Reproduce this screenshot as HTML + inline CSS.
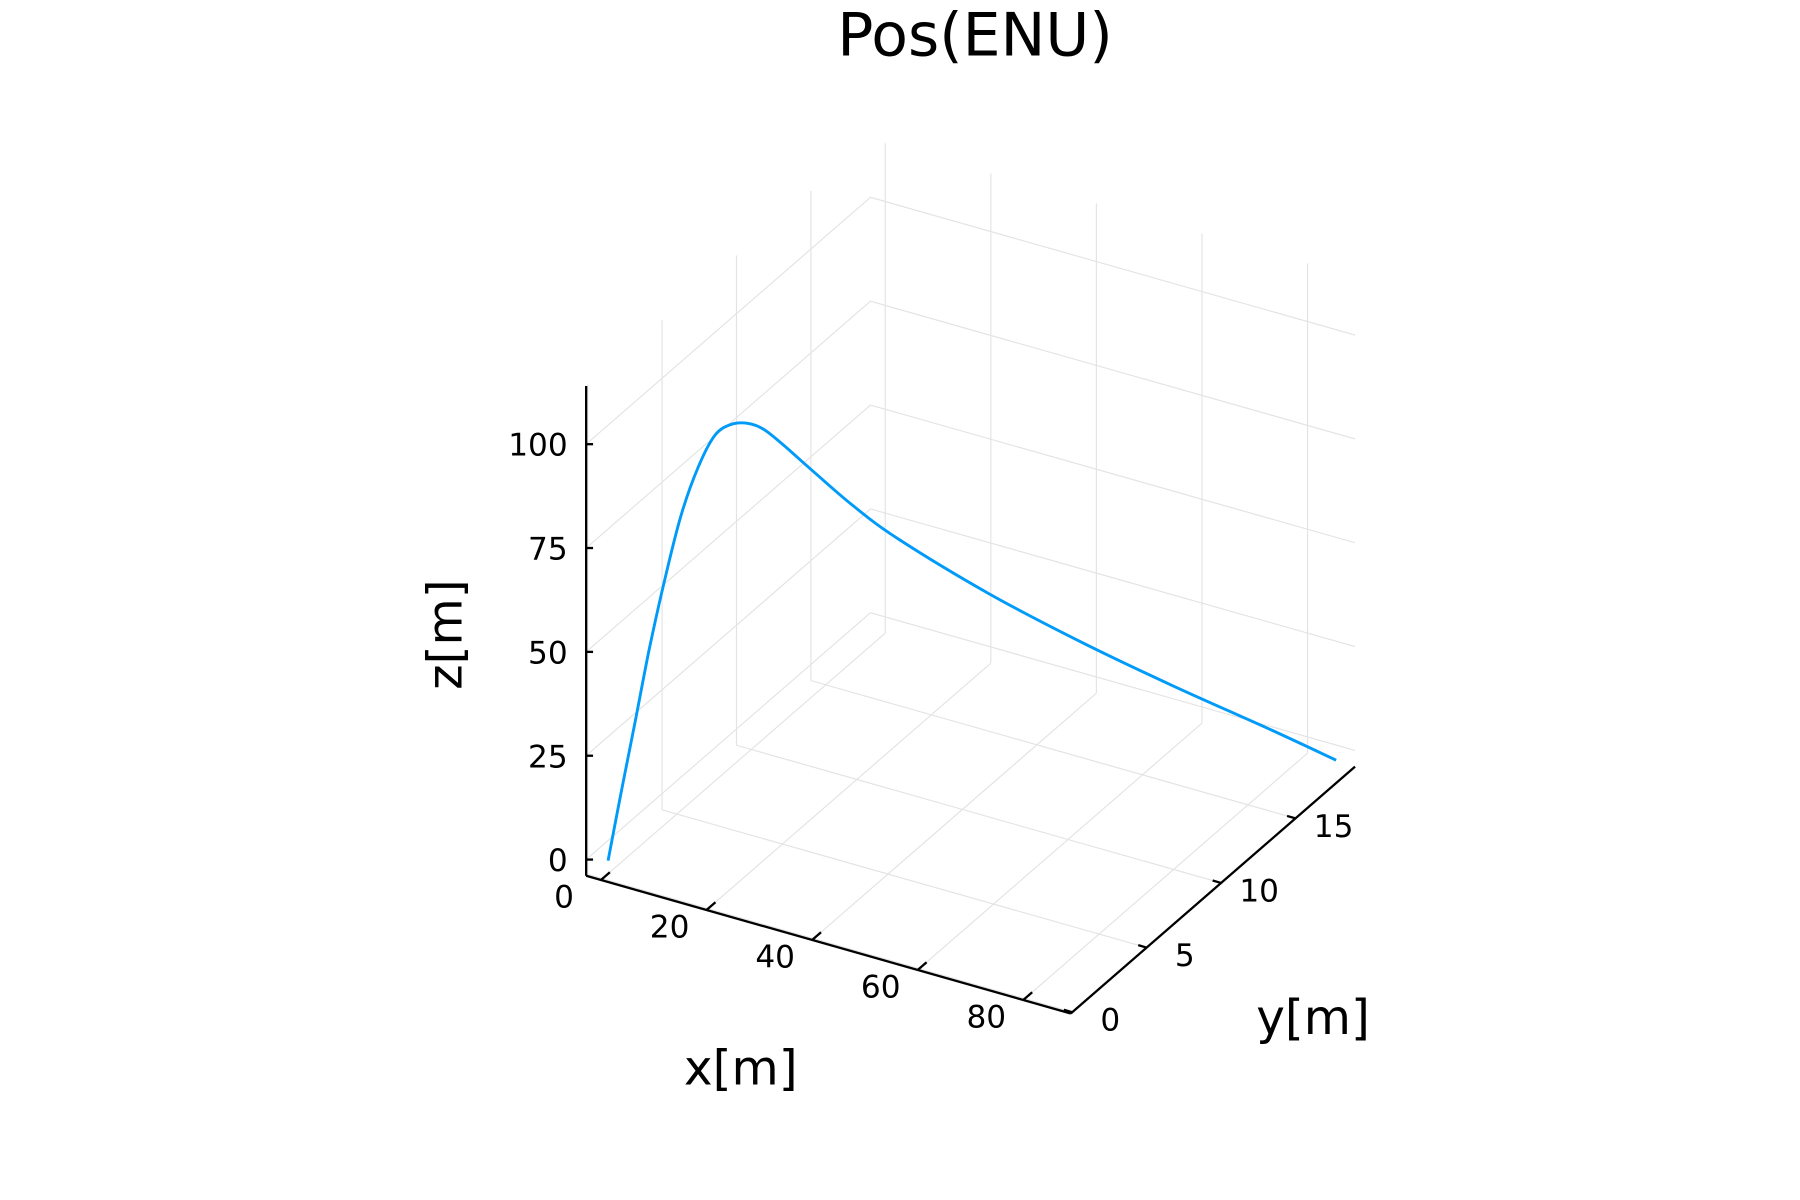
<!DOCTYPE html>
<html><head><meta charset="utf-8"><style>
html,body{margin:0;padding:0;background:#fff;}
svg{display:block;font-family:"DejaVu Sans","Liberation Sans",sans-serif;}
</style></head><body>
<svg id="chart" width="1800" height="1200" viewBox="0 0 1560 1040" preserveAspectRatio="none" xmlns="http://www.w3.org/2000/svg">
<rect width="1560" height="1040" fill="#fff"/>
<g id="grid"></g>
<g id="axes"></g>
<g id="series"></g>
<g id="labels"></g>
<text x="845" y="48" font-size="52" text-anchor="middle">Pos(ENU)</text>
<text x="642" y="940" font-size="42" text-anchor="middle">x[m]</text>
<text x="1138" y="896" font-size="42" text-anchor="middle">y[m]</text>
<text x="0" y="0" font-size="42" text-anchor="middle" transform="translate(400,550) rotate(-90)">z[m]</text>
</svg>
<script>
const xTicks = [0, 20, 40, 60, 80];
const yTicks = [0, 5, 10, 15];
const zTicks = [0, 25, 50, 75, 100];
const trajX = [0.7, 2.3, 4.0, 5.8, 7.7, 9.7, 11.8, 13.9, 15.9, 17.9, 19.9, 22.2, 25.7, 30.7, 36.4, 47.8, 59.2, 70.6, 82.0, 90.5];
const trajY = [0.13, 0.44, 0.76, 1.1, 1.46, 1.84, 2.24, 2.64, 3.02, 3.4, 3.78, 4.22, 4.88, 5.83, 6.92, 9.08, 11.25, 13.41, 15.58, 17.2];
const trajZ = [0.3, 16.3, 32.6, 50.2, 66.4, 81.3, 92.4, 99.7, 101.8, 101.6, 99.7, 95.6, 88.8, 79.2, 69.6, 53.6, 39.3, 26.1, 13.5, 3.8];

const xMin=-2.8, xMax=89, yMin=-0.1, yMax=19, zMin=-3.9, zMax=114;
const O=[508,759], EX=[4.575,1.3], EY=[12.9,-11.2], EZ=[0,-3.6];
function P(x,y,z){
  return [O[0]+(x-xMin)*EX[0]+(y-yMin)*EY[0]+(z-zMin)*EZ[0],
          O[1]+(x-xMin)*EX[1]+(y-yMin)*EY[1]+(z-zMin)*EZ[1]];
}
const NS="http://www.w3.org/2000/svg";
function line(g,a,b,stroke,w,name){
  const l=document.createElementNS(NS,'line');
  l.setAttribute('x1',a[0]);l.setAttribute('y1',a[1]);l.setAttribute('x2',b[0]);l.setAttribute('y2',b[1]);
  l.setAttribute('stroke',stroke);l.setAttribute('stroke-width',w);
  
  
  g.appendChild(l);
}
function text(g,p,s,anchor,name){
  const t=document.createElementNS(NS,'text');
  t.setAttribute('x',p[0]);t.setAttribute('y',p[1]);t.setAttribute('font-size','27');
  t.setAttribute('text-anchor',anchor);t.textContent=s;
  
  
  g.appendChild(t);
}
const grid=document.getElementById('grid'), axes=document.getElementById('axes'),
      series=document.getElementById('series'), labels=document.getElementById('labels');
const GC='#e3e3e3';
xTicks.forEach(x=>{
  line(grid,P(x,yMin,zMin),P(x,yMax,zMin),GC,1,'x-gridline-floor');
  line(grid,P(x,yMax,zMin),P(x,yMax,zMax),GC,1,'x-gridline-wall');
});
yTicks.forEach(y=>{
  line(grid,P(xMin,y,zMin),P(xMax,y,zMin),GC,1,'y-gridline-floor');
  line(grid,P(xMin,y,zMin),P(xMin,y,zMax),GC,1,'y-gridline-wall');
});
zTicks.forEach(z=>{
  line(grid,P(xMin,yMin,z),P(xMin,yMax,z),GC,1,'z-gridline-left-wall');
  line(grid,P(xMin,yMax,z),P(xMax,yMax,z),GC,1,'z-gridline-back-wall');
});
line(axes,P(xMin,yMin,zMin),P(xMax,yMin,zMin),'#000',2,'x-axis-line');
line(axes,P(xMax,yMin,zMin),P(xMax,yMax,zMin),'#000',2,'y-axis-line');
line(axes,P(xMin,yMin,zMin),P(xMin,yMin,zMax),'#000',2,'z-axis-line');
xTicks.forEach(x=>{
  const a=P(x,yMin,zMin), b=P(x,yMin+0.6,zMin);
  line(axes,a,b,'#000',2,'x-tick');
  text(labels,[a[0]-32,a[1]+24],String(x),'middle','x-tick-label');
});
yTicks.forEach(y=>{
  const a=P(xMax,y,zMin), b=P(xMax-1.6,y,zMin);
  line(axes,a,b,'#000',2,'y-tick');
  text(labels,[a[0]+33,a[1]+16],String(y),'middle','y-tick-label');
});
zTicks.forEach(z=>{
  const a=P(xMin,yMin,z);
  line(axes,a,[a[0]+6,a[1]],'#000',2,'z-tick');
  text(labels,[a[0]-16,a[1]+10],String(z),'end','z-tick-label');
});
const pts=trajX.map((x,i)=>P(x,trajY[i],trajZ[i]));
let d='M'+pts[0][0].toFixed(1)+','+pts[0][1].toFixed(1);
for(let i=0;i<pts.length-1;i++){
  const p0=pts[Math.max(0,i-1)],p1=pts[i],p2=pts[i+1],p3=pts[Math.min(pts.length-1,i+2)];
  const c1=[p1[0]+(p2[0]-p0[0])/6,p1[1]+(p2[1]-p0[1])/6];
  const c2=[p2[0]-(p3[0]-p1[0])/6,p2[1]-(p3[1]-p1[1])/6];
  d+=' C'+c1.map(v=>v.toFixed(1)).join(',')+' '+c2.map(v=>v.toFixed(1)).join(',')+' '+p2.map(v=>v.toFixed(1)).join(',');
}
const path=document.createElementNS(NS,'path');
path.setAttribute('d',d);
path.setAttribute('fill','none');path.setAttribute('stroke','#009af9');
path.setAttribute('stroke-width','2.5');path.setAttribute('stroke-linejoin','round');


series.appendChild(path);
</script>
</body></html>
